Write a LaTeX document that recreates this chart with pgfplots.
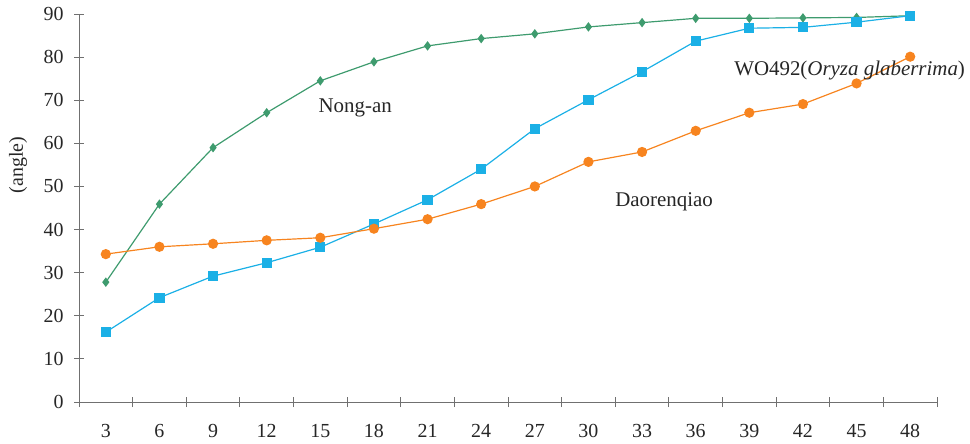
\documentclass[border=0pt]{standalone}
\usepackage{pgfplots}
\pgfplotsset{compat=1.18}
\usepackage{fontspec}
\setmainfont{Liberation Serif}
\definecolor{cgreen}{HTML}{3E9B6E}
\definecolor{ccyan}{HTML}{1BB0E6}
\definecolor{corange}{HTML}{F7841F}
\definecolor{caxis}{HTML}{707070}
\pgfplotstableread{
x green cyan orange
0 27.8 16.2 34.3
1 45.9 24.2 36.0
2 59.0 29.2 36.7
3 67.1 32.3 37.5
4 74.5 35.9 38.1
5 78.9 41.3 40.2
6 82.6 46.9 42.4
7 84.3 54.0 45.9
8 85.4 63.4 50.0
9 87.0 70.1 55.7
10 88.0 76.6 58.0
11 89.0 83.7 62.9
12 89.0 86.7 67.1
13 89.1 86.9 69.1
14 89.2 88.1 73.9
15 89.6 89.6 80.1
}\datatable
\begin{document}
\begin{tikzpicture}
\begin{axis}[
  at={(0,0)}, anchor=south west,
  scale only axis, width=858bp, height=388bp,
  xmin=-0.5, xmax=15.5, ymin=0, ymax=90,
  axis lines=left, axis line style={caxis, line width=0.9pt, -},
  xtick={0,...,15},
  xticklabels={3,6,9,12,15,18,21,24,27,30,33,36,39,42,45,48},
  major x tick style={draw=none},
  minor xtick={-0.5,0.5,...,15.5},
  minor x tick style={caxis, line width=0.9pt},
  minor tick length=10bp,
  ytick={0,10,...,90},
  major y tick style={caxis, line width=0.9pt},
  major tick length=10bp,
  tick align=center,
  /pgf/number format/assume math mode=true,
  tick label style={font=\fontsize{20}{20}\selectfont, text=black!85},
  xticklabel style={yshift=-14bp},
  yticklabel style={xshift=-7bp},
  clip=false,
]
\addplot[cgreen, line width=1.2pt, mark=diamond*, mark size=3.8pt, mark options={fill=cgreen}] table[x=x,y=green]{\datatable};
\addplot[ccyan, line width=1.2pt, mark=square*, mark size=4.5pt, mark options={fill=ccyan}] table[x=x,y=cyan]{\datatable};
\addplot[corange, line width=1.2pt, mark=*, mark size=4.5pt, mark options={fill=corange}] table[x=x,y=orange]{\datatable};
\node[font=\fontsize{21}{21}\selectfont, text=black!85] at (axis cs:4.65,68.2) {Nong-an};
\node[font=\fontsize{21}{21}\selectfont, text=black!85] at (axis cs:10.41,46.4) {Daorenqiao};
\node[font=\fontsize{21}{21}\selectfont, text=black!85] at (axis cs:13.87,77.0) {WO492(\textit{Oryza glaberrima})};
\end{axis}
\node[rotate=90, font=\fontsize{20}{20}\selectfont, text=black!85] at (-61bp,237bp) {(angle)};
\pgfresetboundingbox
\path (-79bp,-42bp) rectangle (891bp,402bp);
\end{tikzpicture}
\end{document}
